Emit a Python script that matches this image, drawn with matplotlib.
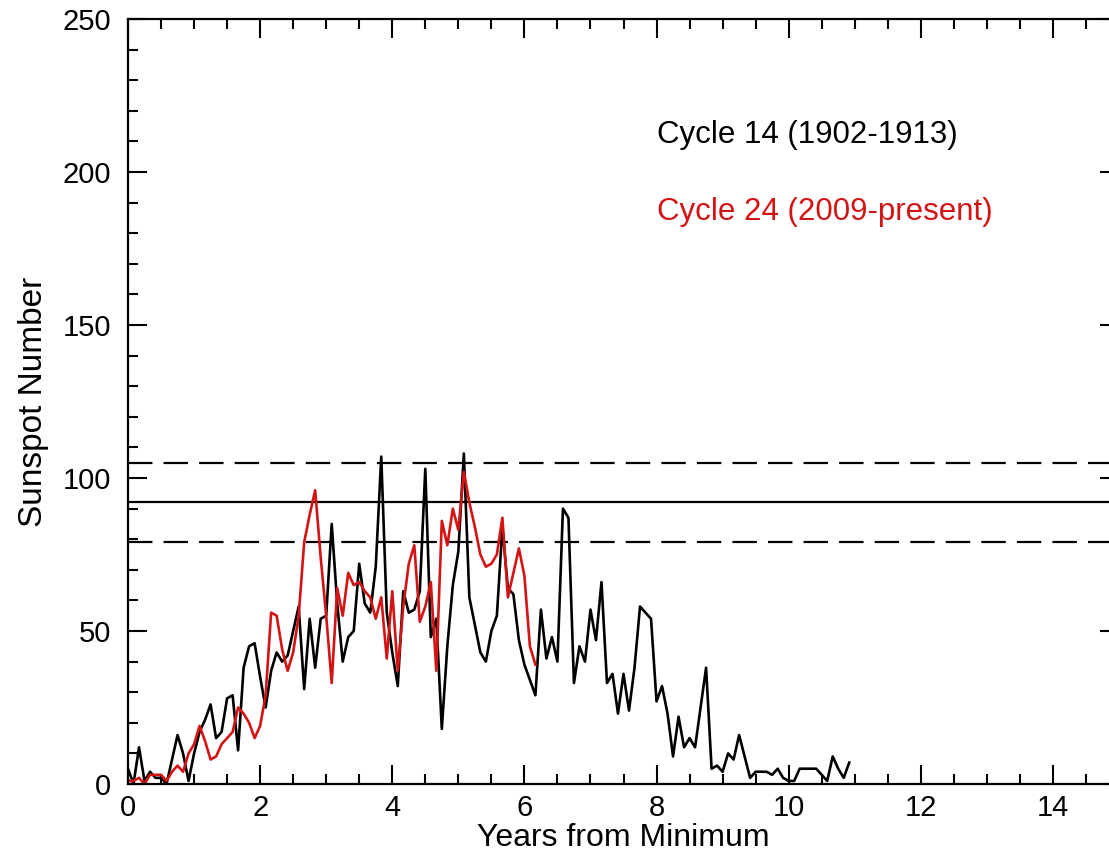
import numpy as np
import matplotlib
matplotlib.use("Agg")
import matplotlib.pyplot as plt
from matplotlib.ticker import MultipleLocator

# monthly sunspot numbers, month 0 = solar minimum
cycle14 = [5, 0, 12, 1, 4, 2, 2, 0, 8, 16, 10, 1, 10, 17, 21, 26, 15, 17, 28, 29,
           11, 38, 45, 46, 35, 25, 37, 43, 40, 42, 50, 58, 31, 54, 38, 54, 55, 85, 59, 40,
           48, 50, 72, 59, 56, 71, 107, 56, 43, 32, 63, 56, 57, 63, 103, 48, 54, 18, 45, 65,
           76, 108, 61, 52, 43, 40, 50, 55, 84, 64, 62, 47, 39, 34, 29, 57, 41, 48, 40, 90,
           87, 33, 45, 40, 57, 47, 66, 33, 36, 23, 36, 24, 38, 58, 56, 54, 27, 32, 23, 9,
           22, 12, 15, 12, 25, 38, 5, 6, 4, 10, 8, 16, 9, 2, 4, 4, 4, 3, 5, 2,
           1, 1, 5, 5, 5, 5, 3, 1, 9, 5, 2, 7]
cycle24 = [1, 1, 2, 0, 3, 3, 3, 1, 4, 6, 4, 10, 13, 19, 14, 8, 9, 13, 15, 17,
           25, 23, 20, 15, 19, 29, 56, 55, 44, 37, 43, 55, 79, 88, 96, 74, 55, 33, 64, 55,
           69, 65, 66, 63, 61, 54, 61, 41, 63, 37, 58, 72, 78, 53, 58, 66, 37, 86, 78, 90,
           83, 102, 92, 84, 75, 71, 72, 75, 87, 61, 69, 77, 68, 45, 39]

mean_max = 92
mean_max_hi = 105
mean_max_lo = 79

plt.rcParams['font.family'] = ['Liberation Sans', 'DejaVu Sans']

fig = plt.figure(figsize=(11.09, 8.52), dpi=100)
ax = fig.add_axes([128 / 1109, 1 - 784 / 852, 991 / 1109, 765 / 852])

t14 = np.arange(len(cycle14)) / 12.0
t24 = np.arange(len(cycle24)) / 12.0

ax.axhline(mean_max, color='black', lw=1.6)
ax.axhline(mean_max_hi, color='black', lw=1.6, dashes=(11, 5))
ax.axhline(mean_max_lo, color='black', lw=1.6, dashes=(11, 5))

ax.plot(t14, cycle14, color='black', lw=1.9)
ax.plot(t24, cycle24, color='#d41414', lw=1.9)

ax.set_xlim(0, 15)
ax.set_ylim(0, 250)
ax.xaxis.set_major_locator(MultipleLocator(2))
ax.xaxis.set_minor_locator(MultipleLocator(0.5))
ax.yaxis.set_major_locator(MultipleLocator(50))
ax.yaxis.set_minor_locator(MultipleLocator(10))

ax.tick_params(which='both', direction='in', top=True, right=True, width=1.5,
               labelsize=21)
ax.tick_params(which='major', length=14)
ax.tick_params(which='minor', length=7)
ax.tick_params(axis='y', pad=12)
ax.tick_params(axis='x', pad=7)
for s in ax.spines.values():
    s.set_linewidth(1.6)

ax.set_xlabel('Years from Minimum', fontsize=23, labelpad=1)
ax.set_ylabel('Sunspot Number', fontsize=24, labelpad=10)

ax.text(8.0, 212, 'Cycle 14 (1902-1913)', color='black', fontsize=22.5, va='center')
ax.text(8.0, 187, 'Cycle 24 (2009-present)', color='#d41414', fontsize=22.5, va='center')

fig.savefig('out.png', dpi=100)
